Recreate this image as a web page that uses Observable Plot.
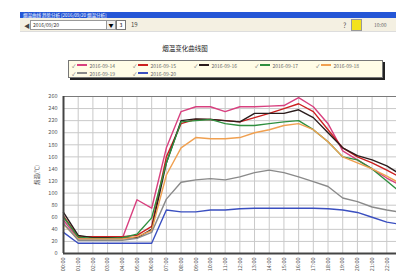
<!DOCTYPE html>
<html>
<head>
<meta charset="utf-8">
<script src="https://cdn.jsdelivr.net/npm/d3@7"></script>
<script src="https://cdn.jsdelivr.net/npm/@observablehq/plot@0.6"></script>
<style>
  html, body { margin: 0; padding: 0; }
  body { width: 396px; height: 280px; overflow: hidden; background: #fff; position: relative;
         font-family: "Noto Sans CJK SC", "Noto Sans", sans-serif; }
  .abs { position: absolute; }
  #chart svg { max-width: none !important; }
  #legend { left: 68px; top: 60px; width: 313px; height: 16px; background: #fffce6;
            border: 1px solid #777; box-shadow: 2px 2px 0 #222; font-size: 5px; color: #666; }
  .row { display: flex; height: 8px; align-items: center; padding-left: 3px; }
  .item { display: flex; align-items: center; width: 61px; }
  .sw { width: 10px; height: 1.5px; margin: 0 2px 0 2px; }
  .ck { font-size: 5px; color: #555; }
</style>
</head>
<body>
<div class="abs" style="left:20px;top:12px;width:376px;height:6px;background:#2456d6;color:#fff;font-size:4.5px;line-height:6px;padding-left:3px;box-sizing:border-box">烟温曲线 趋势分析 [2016/09/20 烟温分析]</div>
<div class="abs" style="left:20px;top:18px;width:376px;height:13px;background:#f4f0e2;border-bottom:1px solid #ddd"></div>
<div class="abs" style="left:24px;top:21px;font-size:6px;color:#444">&#9664;</div>
<div class="abs" style="left:30px;top:20px;width:76px;height:8px;background:#fff;border:1px solid #999;font-size:5px;line-height:8px;padding-left:2px;color:#333">2016/09/20</div>
<div class="abs" style="left:106px;top:20px;width:8px;height:8px;background:#eee;border:1px solid #999;font-size:5px;line-height:8px;text-align:center">▼</div>
<div class="abs" style="left:116px;top:20px;width:8px;height:8px;background:#fff;border:1px solid #777;font-size:5px;line-height:8px;text-align:center">3</div>
<div class="abs" style="left:131px;top:20px;font-size:6px;color:#444">19</div>
<div class="abs" style="left:343px;top:20px;font-size:7px;color:#555">?</div>
<div class="abs" style="left:351px;top:19px;width:9px;height:10px;background:#f3e21c;border:1px solid #999"></div>
<div class="abs" style="left:374px;top:21px;font-size:5px;color:#666">10:00</div>

<div class="abs" style="left:120px;top:43px;width:130px;text-align:center;font-size:6.5px;color:#222">烟温变化曲线图</div>

<div id="legend" class="abs"></div>
<div id="chart" class="abs" style="left:0;top:85px;width:430px;height:195px"></div>

<script>
const tickLabels = ["00:00","01:00","02:00","03:00","04:00","05:00","06:00","07:00","08:00","09:00","10:00","11:00",
                    "12:00","13:00","14:00","15:00","16:00","17:00","18:00","19:00","20:00","21:00","22:00","23:00"];
const yTicks = [0,20,40,60,80,100,120,140,160,180,200,220,240,260];
const seriesNames = ["2016-09-14","2016-09-15","2016-09-16","2016-09-17","2016-09-18","2016-09-19","2016-09-20"];
const seriesColors = ["#d8407f","#cc2020","#2a1c1c","#2f8f3f","#f0a050","#8a8a8a","#3a4fc0"];

const s1 = [55,25,25,25,25,89,75,175,235,243,243,235,243,243,244,245,258,243,215,170,155,140,125,112];
const s2 = [62,28,28,28,28,30,45,160,215,222,222,220,218,225,232,240,248,235,205,175,160,150,138,125];
const s3 = [68,30,26,26,26,26,40,150,220,223,222,220,218,232,232,232,238,225,200,175,162,155,145,130];
const s4 = [60,27,25,25,26,32,59,150,218,220,222,215,212,212,215,218,220,205,185,160,155,140,120,100];
const s5 = [48,24,24,24,24,28,38,130,175,192,190,190,192,200,205,212,215,205,185,160,150,140,128,115];
const s6 = [50,22,22,22,22,25,35,90,118,122,124,122,127,134,138,134,127,119,111,92,86,77,72,68];
const s7 = [35,17,17,17,17,17,17,72,69,69,72,72,74,75,75,75,75,75,74,72,68,60,52,48];
const seriesValues = [s1,s2,s3,s4,s5,s6,s7];

const rows = [];
seriesValues.forEach((vals, k) => vals.forEach((v, i) => rows.push({series: seriesNames[k], i, v})));
const tickIdx = tickLabels.map((_, i) => i);
// the window crops the chart at the right; only labels inside the window are drawn
const visibleTicks = tickIdx.slice(0, tickIdx.length - 1);

const chart = Plot.plot({
  width: 430, height: 195,
  marginLeft: 63, marginRight: 29, marginTop: 11, marginBottom: 27,
  style: {fontSize: "5.5px", fontFamily: "'Noto Sans CJK SC', 'Noto Sans', sans-serif", color: "#555", background: "transparent", maxWidth: "none"},
  x: {domain: [0, 23]},
  y: {domain: [0, 260]},
  color: {domain: seriesNames, range: seriesColors},
  marks: [
    Plot.gridX(tickIdx, {stroke: "#c9c9c9", strokeOpacity: 1}),
    Plot.gridY(yTicks, {stroke: "#c9c9c9", strokeOpacity: 1}),
    Plot.frame({stroke: "#666", strokeWidth: 0.8}),
    Plot.axisX(visibleTicks, {tickFormat: i => tickLabels[i], tickRotate: -90, tickSize: 0, tickPadding: 4, label: null}),
    Plot.axisY(yTicks, {tickSize: 0, tickPadding: 6, label: "烟温(℃)", labelAnchor: "center", labelArrow: "none", labelOffset: 28}),
    Plot.lineY(rows, {x: "i", y: "v", stroke: "series", strokeWidth: 1.4}),
    Plot.ruleX([0], {stroke: "#444", strokeWidth: 2}),
    Plot.ruleY([0], {stroke: "#444", strokeWidth: 2})
  ]
});
chart.style.maxWidth = "none";
document.getElementById("chart").appendChild(chart);

const leg = document.getElementById("legend");
const perRow = [5, 2];
let idx = 0;
perRow.forEach(n => {
  const row = document.createElement("div");
  row.className = "row";
  for (let j = 0; j < n && idx < seriesNames.length; j++, idx++) {
    const it = document.createElement("div");
    it.className = "item";
    it.innerHTML = `<span class="ck">✓</span><span class="sw" style="background:${seriesColors[idx]}"></span><span>${seriesNames[idx]}</span>`;
    row.appendChild(it);
  }
  leg.appendChild(row);
});
</script>
</body>
</html>
